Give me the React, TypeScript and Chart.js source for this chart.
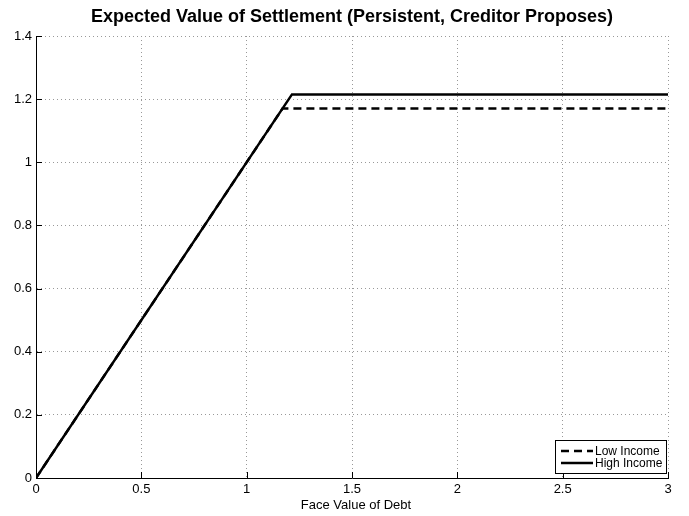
import React, { useEffect, useRef } from "react";
import { Chart, registerables } from "chart.js";

Chart.register(...registerables);

const lowIncomeX = [0, 1.17, 3];
const lowIncomeY = [0, 1.17, 1.17];
const highIncomeX = [0, 1.2, 1.215, 3];
const highIncomeY = [0, 1.2, 1.215, 1.215];
const xTickLabels = ["0", "0.5", "1", "1.5", "2", "2.5", "3"];
const yTickLabels = ["0", "0.2", "0.4", "0.6", "0.8", "1", "1.2", "1.4"];
const seriesNames = ["Low Income", "High Income"];
const titleText = "Expected Value of Settlement (Persistent, Creditor Proposes)";
const xLabelText = "Face Value of Debt";

const FONT = "'Liberation Sans', Arial, Helvetica, sans-serif";

const decorPlugin = {
  id: "decor",
  afterDraw(chart: any) {
    const { ctx, chartArea } = chart;
    const xs = chart.scales.x;
    const ys = chart.scales.y;
    ctx.save();
    // inward tick marks
    ctx.strokeStyle = "#000";
    ctx.lineWidth = 1;
    ctx.setLineDash([]);
    for (let i = 0; i < xTickLabels.length; i++) {
      const px = Math.round(xs.getPixelForValue(i * 0.5)) + 0.5;
      ctx.beginPath();
      ctx.moveTo(px, chartArea.bottom);
      ctx.lineTo(px, chartArea.bottom - 6);
      ctx.stroke();
    }
    for (let i = 0; i < yTickLabels.length; i++) {
      const py = Math.round(ys.getPixelForValue(i * 0.2)) + 0.5;
      ctx.beginPath();
      ctx.moveTo(chartArea.left, py);
      ctx.lineTo(chartArea.left + 6, py);
      ctx.stroke();
    }
    // title
    ctx.fillStyle = "#000";
    ctx.font = `bold 18px ${FONT}`;
    ctx.textAlign = "center";
    ctx.textBaseline = "middle";
    ctx.fillText(titleText, (chartArea.left + chartArea.right) / 2, 17);
    // x label
    ctx.font = `13px ${FONT}`;
    ctx.fillText(xLabelText, (chartArea.left + chartArea.right) / 2 + 4, 505);
    // legend
    const lx = 555, ly = 440, lw = 111, lh = 33;
    ctx.fillStyle = "#fff";
    ctx.fillRect(lx, ly, lw, lh);
    ctx.strokeStyle = "#000";
    ctx.lineWidth = 1;
    ctx.strokeRect(lx + 0.5, ly + 0.5, lw, lh);
    const rows = [451, 463];
    const dashes = [[8, 5], []];
    ctx.font = `12px ${FONT}`;
    ctx.textAlign = "left";
    for (let i = 0; i < 2; i++) {
      ctx.beginPath();
      ctx.lineWidth = 2.5;
      ctx.setLineDash(dashes[i]);
      ctx.moveTo(561, rows[i]);
      ctx.lineTo(593, rows[i]);
      ctx.stroke();
      ctx.setLineDash([]);
      ctx.fillStyle = "#000";
      ctx.fillText(seriesNames[i], 595, rows[i] + 0.5);
    }
    ctx.restore();
  },
};

export default function App() {
  const ref = useRef<HTMLCanvasElement>(null);
  useEffect(() => {
    const lowData = lowIncomeX.map((x, i) => ({ x, y: lowIncomeY[i] }));
    const highData = highIncomeX.map((x, i) => ({ x, y: highIncomeY[i] }));
    const chart = new Chart(ref.current as HTMLCanvasElement, {
      type: "line",
      data: {
        datasets: [
          {
            label: seriesNames[0],
            data: lowData,
            borderColor: "#000",
            borderWidth: 2.5,
            borderDash: [8, 5],
            pointRadius: 0,
            fill: false,
            tension: 0,
          },
          {
            label: seriesNames[1],
            data: highData,
            borderColor: "#000",
            borderWidth: 2.5,
            pointRadius: 0,
            fill: false,
            tension: 0,
          },
        ],
      },
      options: {
        animation: false,
        responsive: false,
        maintainAspectRatio: false,
        layout: { padding: { top: 36, right: 21, left: 0, bottom: 0 } },
        plugins: { legend: { display: false }, title: { display: false }, tooltip: { enabled: false } },
        scales: {
          x: {
            type: "linear",
            min: 0,
            max: 3,
            afterFit: (s: any) => { s.height = 38; },
            ticks: {
              stepSize: 0.5,
              color: "#000",
              font: { family: FONT, size: 13 },
              padding: 4,
              maxRotation: 0,
              autoSkip: false,
              callback: (v: any, i: number) => xTickLabels[i],
            },
            grid: { color: "#999", drawTicks: false, lineWidth: 1 },
            border: { display: true, color: "#000", width: 1, dash: [1, 3] },
          },
          y: {
            type: "linear",
            min: 0,
            max: 1.4,
            afterFit: (s: any) => { s.width = 36; },
            ticks: {
              stepSize: 0.2,
              color: "#000",
              font: { family: FONT, size: 13 },
              padding: 4,
              autoSkip: false,
              callback: (v: any, i: number) => yTickLabels[i],
            },
            grid: { color: "#999", drawTicks: false, lineWidth: 1 },
            border: { display: true, color: "#000", width: 1, dash: [1, 3] },
          },
        },
      } as any,
      plugins: [decorPlugin],
    });
    return () => chart.destroy();
  }, []);
  return (
    <div style={{ position: "fixed", left: 0, top: 0, width: 689, height: 516, background: "#fff" }}>
      <canvas ref={ref} width={689} height={516} style={{ width: 689, height: 516, display: "block" }} />
    </div>
  );
}
